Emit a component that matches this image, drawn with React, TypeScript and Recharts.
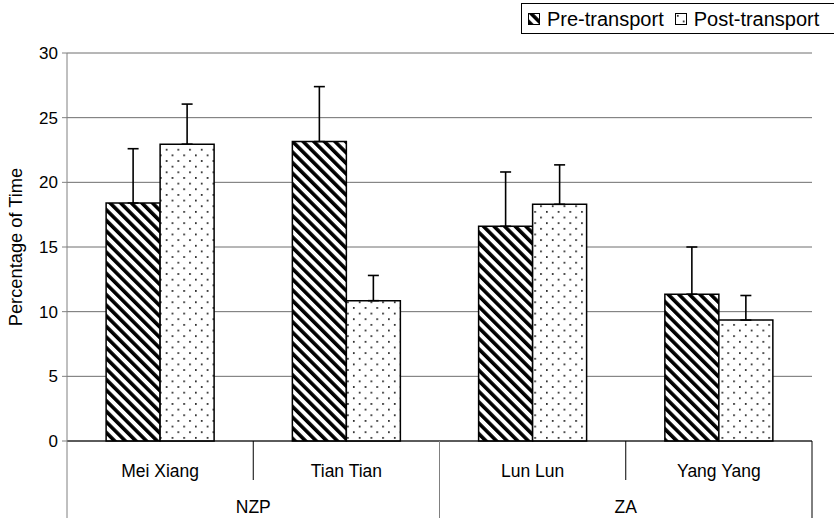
import { BarChart, Bar, XAxis, YAxis, CartesianGrid, ErrorBar } from "recharts";

document.body.style.margin = "0";

const FONT = '"Liberation Sans", Arial, sans-serif';

const pandas = ["Mei Xiang", "Tian Tian", "Lun Lun", "Yang Yang"];
const zoos = ["NZP", "NZP", "ZA", "ZA"];
const preTransport = [18.4, 23.15, 16.6, 11.35];
const preError = [4.2, 4.25, 4.2, 3.65];
const postTransport = [22.95, 10.85, 18.3, 9.35];
const postError = [3.1, 1.95, 3.05, 1.9];
const yTicks = [0, 5, 10, 15, 20, 25, 30];

const data = pandas.map((name, i) => ({
    name,
    zoo: zoos[i],
    pre: preTransport[i],
    preErr: [0, preError[i]],
    post: postTransport[i],
    postErr: [0, postError[i]],
}));

const CHART_H = 518;

function PandaTick(props: any) {
    const { x, y, payload, index } = props;
    const half = payload.offset ?? 93;
    const left = x - half;
    const right = x + half;
    const lines = [];
    // dividers between pandas, longer ones between zoos
    const isZooEdge = index % 2 === 0;
    lines.push(
        <line
            key="l"
            x1={left}
            x2={left}
            y1={y}
            y2={isZooEdge ? CHART_H : y + 39}
            stroke={isZooEdge ? "#808080" : "#000"}
            strokeWidth={1}
        />
    );
    if (index === pandas.length - 1) {
        lines.push(
            <line key="r" x1={right} x2={right} y1={y} y2={CHART_H} stroke="#000" strokeWidth={1} />
        );
    }
    return (
        <g>
            {lines}
            <text x={x} y={y + 36} textAnchor="middle" fontSize={17.5} fontFamily={FONT} fill="#000">
                {payload.value}
            </text>
            {index % 2 === 1 && (
                <text x={left} y={y + 72} textAnchor="middle" fontSize={17.5} fontFamily={FONT} fill="#000">
                    {zoos[index]}
                </text>
            )}
        </g>
    );
}

function LegendBox() {
    const item = (fill: string, label: string, gap: number) => (
        <span style={{ display: "inline-flex", alignItems: "center", marginRight: gap }}>
            <svg width={12} height={12} style={{ marginRight: 7 }}>
                <rect x={0.5} y={0.5} width={11} height={11} fill={fill} stroke="#000" strokeWidth={1} />
            </svg>
            {label}
        </span>
    );
    return (
        <div
            style={{
                position: "absolute",
                left: 521,
                top: 3,
                width: 309,
                height: 29,
                border: "1px solid #000",
                background: "#fff",
                fontFamily: FONT,
                fontSize: 20,
                paddingLeft: 6,
                boxSizing: "content-box",
                whiteSpace: "nowrap",
                display: "flex",
                alignItems: "center",
                lineHeight: "20px",
            }}
        >
            {item("url(#stripes)", "Pre-transport", 11)}
            {item("url(#dots)", "Post-transport", 0)}
        </div>
    );
}

export default function App() {
    return (
        <div style={{ position: "relative", width: 834, height: 518, background: "#fff" }}>
            <BarChart
                width={834}
                height={518}
                data={data}
                margin={{ top: 53, right: 22, bottom: 0, left: 0 }}
                barCategoryGap="21%"
                barGap={0}
            >
                <defs>
                    <pattern
                        id="stripes"
                        width={7.5}
                        height={7.5}
                        patternUnits="userSpaceOnUse"
                        patternTransform="rotate(-45)"
                    >
                        <rect width={7.5} height={7.5} fill="#fff" />
                        <rect width={3.6} height={7.5} fill="#000" />
                    </pattern>
                    <pattern id="dots" width={11.7} height={11.3} patternUnits="userSpaceOnUse">
                        <rect width={11.7} height={11.3} fill="#fff" />
                        <rect x={2} y={2} width={1.6} height={1.6} fill="#000" />
                        <rect x={7.85} y={7.65} width={1.6} height={1.6} fill="#000" />
                    </pattern>
                </defs>
                <CartesianGrid vertical={false} stroke="#6e6e6e" />
                <XAxis
                    dataKey="name"
                    height={77}
                    tickSize={0}
                    tickMargin={0}
                    interval={0}
                    axisLine={{ stroke: "#000" }}
                    tick={<PandaTick />}
                />
                <YAxis
                    width={67}
                    domain={[0, 30]}
                    ticks={yTicks}
                    tickSize={5}
                    tickMargin={4}
                    axisLine={{ stroke: "#808080" }}
                    tickLine={{ stroke: "#808080" }}
                    tick={{ fill: "#000", fontSize: 17, fontFamily: FONT }}
                    label={{
                        value: "Percentage of Time",
                        angle: -90,
                        position: "insideLeft",
                        dx: 10.5,
                        dy: 0,
                        style: { textAnchor: "middle", fontSize: 18.3, fontFamily: FONT, fill: "#000" },
                    }}
                />
                <Bar dataKey="pre" fill="url(#stripes)" stroke="#000" strokeWidth={1.5} isAnimationActive={false}>
                    <ErrorBar dataKey="preErr" direction="y" width={5.5} stroke="#000" strokeWidth={1.6} />
                </Bar>
                <Bar dataKey="post" fill="url(#dots)" stroke="#000" strokeWidth={1.5} isAnimationActive={false}>
                    <ErrorBar dataKey="postErr" direction="y" width={5.5} stroke="#000" strokeWidth={1.6} />
                </Bar>
            </BarChart>
            <LegendBox />
        </div>
    );
}
